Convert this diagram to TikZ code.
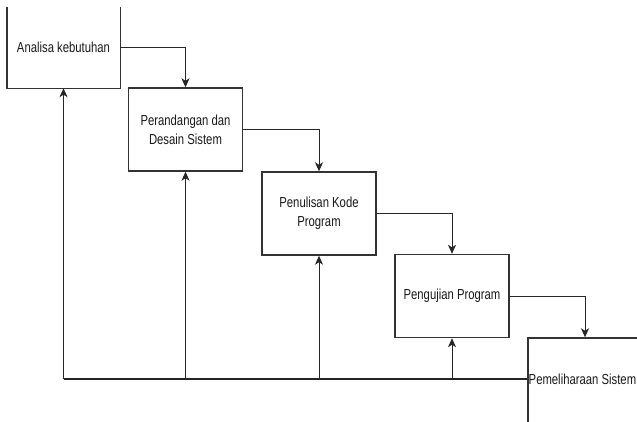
\documentclass[tikz,border=0pt]{standalone}
\usepackage{fontspec}
\setmainfont[FakeStretch=0.78]{Liberation Sans}
\usetikzlibrary{arrows.meta}
\tikzset{
  stage/.style={rectangle, minimum width=114pt, minimum height=83pt, inner sep=0pt,
    align=center, font=\fontsize{14.5}{19}\selectfont, text=black!90},
  stagebox/.style={stage, draw=black!80, line width=1.4pt},
  flow/.style={draw=black!85, line width=1pt, -{Stealth[length=9pt,width=8pt,inset=2.5pt]}},
  backbone/.style={draw=black!85, line width=2pt},
}
\begin{document}
\begin{tikzpicture}[x=1pt,y=-1pt]
  \useasboundingbox (0,0) rectangle (637,421);
  \fill[white] (0,0) rectangle (637,421);
  \clip (0,0) rectangle (637,421);

  % stages of the waterfall
  \node[stage, minimum width=113pt, minimum height=81pt] (analisa) at (63.5,47.5) {Analisa kebutuhan};
  \draw[black!80, line width=1.4pt] (analisa.north west) |- (analisa.south east) -- (analisa.north east);
  \node[stagebox] (desain) at (185.5,129.5) {Perandangan dan\\Desain Sistem};
  \node[stagebox] (kode) at (319,213.5) {Penulisan Kode\\Program};
  \node[stagebox] (uji) at (452,296) {Pengujian Program};
  \node[stagebox, minimum height=86pt] (pelihara) at (585,381) {};
  \node[stage, minimum width=0pt, minimum height=0pt, anchor=west] (pemtext) at (528.5,379) {Pemeliharaan Sistem};

  % forward flow
  \draw[flow] (analisa.east) -| (desain.north);
  \draw[flow] (desain.east) -| (kode.north);
  \draw[flow] (kode.east) -| (uji.north);
  \draw[flow] (uji.east) -| (pelihara.north);

  % feedback line along the bottom
  \coordinate (j1) at (analisa.south |- pemtext.west);
  \coordinate (j2) at (desain.south |- pemtext.west);
  \coordinate (j3) at (kode.south |- pemtext.west);
  \coordinate (j4) at (uji.south |- pemtext.west);
  \draw[backbone] (j1) -- (pelihara.west |- pemtext.west);
  \draw[flow] (j1) -- (analisa.south);
  \draw[flow] (j2) -- (desain.south);
  \draw[flow] (j3) -- (kode.south);
  \draw[flow] (j4) -- (uji.south);
\end{tikzpicture}
\end{document}
